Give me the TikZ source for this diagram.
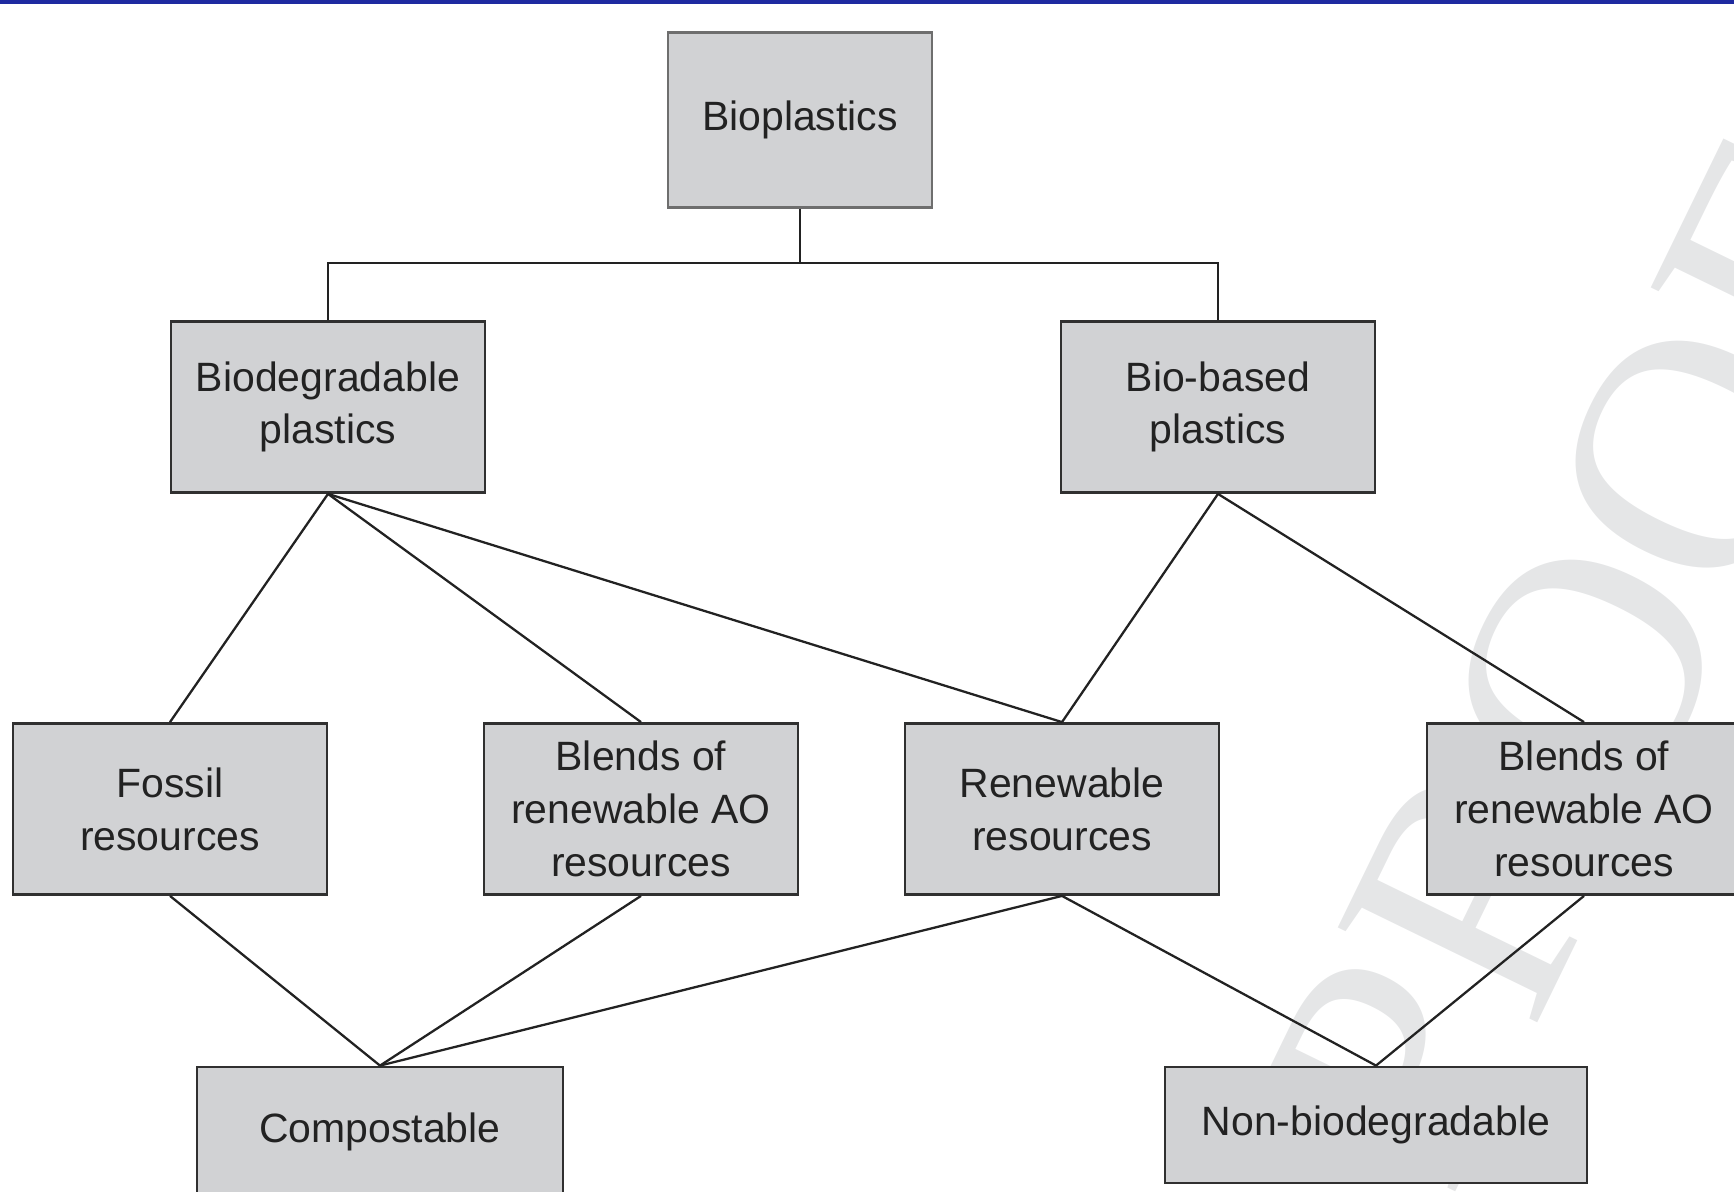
\documentclass[tikz,border=0pt]{standalone}
\usepackage{fontspec}
\setmainfont{Liberation Sans}
\newfontfamily\wmfont{Liberation Serif}
\usepackage{xcolor}
\usepackage{tikz}
\usetikzlibrary{positioning}
\definecolor{boxfill}{HTML}{D1D2D4}
\definecolor{boxline}{HTML}{303030}
\definecolor{ink}{HTML}{222222}
\definecolor{barblue}{HTML}{1E2AA0}
\definecolor{wmgray}{HTML}{E5E6E7}

\begin{document}
\begin{tikzpicture}[
  every node/.style={align=center, font=\fontsize{23.3}{30}\selectfont, text=ink},
  box/.style={
    rectangle, draw=boxline, line width=1.6pt, fill=boxfill,
    minimum width=6.28cm, minimum height=3.42cm, inner sep=2pt
  },
  link/.style={line width=1.3pt, draw=ink},
]
\useasboundingbox (0,0) rectangle (34.68,-23.82);
\clip (0,0) rectangle (34.68,-23.82);
\fill[barblue] (0,0) rectangle (34.68,-0.09);
\node[font=\wmfont\fontsize{192}{192}\selectfont, text=wmgray, rotate=64] (proof) at (31.8,-13.3) {PROOF};
\node[box, draw=boxline!70, minimum width=5.28cm, minimum height=3.5cm] (bio) at (16.0,-2.4) {Bioplastics};
\node[box] (degr)   at (6.56,-8.14)  {Biodegradable\\plastics};
\node[box] (based)  at (24.36,-8.14) {Bio-based\\plastics};
\node[box] (fossil) at (3.40,-16.18)  {Fossil\\resources};
\node[box] (blendA) at (12.82,-16.18) {Blends of\\renewable AO\\resources};
\node[box] (renew)  at (21.24,-16.18) {Renewable\\resources};
\node[box] (blendB) at (31.68,-16.18) {Blends of\\renewable AO\\resources};
\node[box, minimum width=7.32cm, minimum height=2.6cm]  (comp)   at (7.60,-22.64)  {Compostable};
\node[box, minimum width=8.44cm, minimum height=2.32cm] (nonbio) at (27.52,-22.50) {Non-biodegradable};
\coordinate (split) at (16.0,-5.26);
\draw[link] (bio.south) -- (split);
\draw[link] (degr.north) |- (split) -| (based.north);
\draw[link] (degr.south)  -- (fossil.north);
\draw[link] (degr.south)  -- (blendA.north);
\draw[link] (degr.south)  -- (renew.north);
\draw[link] (based.south) -- (renew.north);
\draw[link] (based.south) -- (blendB.north);
\draw[link] (fossil.south) -- (comp.north);
\draw[link] (blendA.south) -- (comp.north);
\draw[link] (renew.south)  -- (comp.north);
\draw[link] (renew.south)  -- (nonbio.north);
\draw[link] (blendB.south) -- (nonbio.north);
\end{tikzpicture}
\end{document}
